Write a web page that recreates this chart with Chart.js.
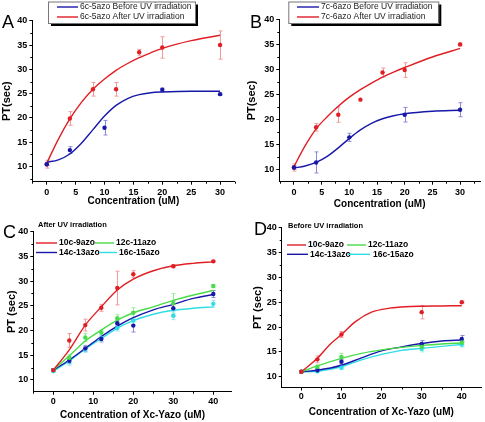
<!DOCTYPE html>
<html>
<head>
<meta charset="utf-8">
<title>PT vs concentration</title>
<script src="https://cdn.jsdelivr.net/npm/chart.js@4.4.1/dist/chart.umd.min.js"></script>
<style>
  body { margin: 0; background: #fff; }
  #wrap { position: relative; width: 485px; height: 422px; }
  canvas { position: absolute; }
</style>
</head>
<body>
<div id="wrap">
  <canvas id="chartA" width="242" height="211" style="left:0;top:0"></canvas>
  <canvas id="chartB" width="243" height="211" style="left:242px;top:0"></canvas>
  <canvas id="chartC" width="242" height="211" style="left:0;top:211px"></canvas>
  <canvas id="chartD" width="243" height="211" style="left:242px;top:211px"></canvas>
</div>
<script>
// ---- tick labels ----
const abXTicks = [0, 5, 10, 15, 20, 25, 30];
const cdXTicks = [0, 10, 20, 30, 40];
const yTicks = [10, 15, 20, 25, 30, 35, 40];

// ---- A : 6c-5azo ----
const aBeforeConc = [0, 4, 10, 20, 30];
const aBeforePT = [10.5, 13.4, 18, 25.8, 24.9];
const aBeforeErr = [0.3, 0.7, 1.5, 0.35, 0.2];
const aAfterConc = [0, 4, 8, 12, 16, 20, 30];
const aAfterPT = [10.5, 19.9, 25.9, 25.9, 33.5, 34.5, 35];
const aAfterErr = [0.8, 1.4, 1.4, 1.4, 0.6, 2.2, 2.9];
const aFitConc = [0, 2, 4, 6, 8, 10, 12, 14, 16, 18, 20, 25, 30];
const aBeforeFit = [10.9, 11.4, 12.6, 14.8, 17.6, 20.4, 22.6, 24.0, 24.8, 25.2, 25.35, 25.5, 25.5];
const aAfterFit = [10.7, 15.6, 19.8, 23.2, 25.9, 28.0, 29.8, 31.2, 32.4, 33.4, 34.3, 35.9, 37.0];

// ---- B : 7c-6azo ----
const bBeforeConc = [0, 4, 10, 20, 30];
const bBeforePT = [10.5, 11.5, 16.5, 21, 22];
const bBeforeErr = [0.3, 2.1, 0.8, 1.45, 1.4];
const bAfterConc = [0, 4, 8, 12, 16, 20, 30];
const bAfterPT = [10.5, 18.5, 21, 24, 29.4, 29.9, 35];
const bAfterErr = [0.7, 0.75, 1.5, 0, 0.9, 1.45, 0.3];
const bFitConc = [0, 2, 4, 6, 8, 10, 12, 14, 16, 18, 20, 25, 30];
const bBeforeFit = [10.4, 10.8, 11.5, 12.7, 14.4, 16.3, 18.0, 19.3, 20.2, 20.8, 21.2, 21.7, 21.9];
const bAfterFit = [10.7, 14.8, 18.2, 20.6, 22.7, 24.5, 26.0, 27.3, 28.5, 29.5, 30.4, 32.5, 34.2];

// ---- C : after UV irradiation ----
const cConc = [0, 4, 8, 12, 16, 20, 30, 40];
const c10PT = [12, 18, 21.1, 24.6, 28.6, 31.4, 33, 34];
const c10Err = [0.3, 1.4, 1.2, 0.7, 3.4, 0.7, 0.3, 0.2];
const c12PT = [12, 14.5, 18.6, 19.6, 22.5, 23.6, 25.5, 29];
const c12Err = [0.3, 0.6, 0.8, 0.5, 0.7, 1.0, 2.0, 0.3];
const c14PT = [12, 13.9, 16.4, 18.3, 21.5, 21.0, 24.5, 27.4];
const c14Err = [0.3, 0.6, 0.6, 0.6, 0.5, 1.3, 1.5, 0.7];
const c16PT = [11.8, 13.7, 16.2, 18.4, 20.5, 22.0, 23.0, 25.4];
const c16Err = [0.3, 0.7, 0.6, 0.6, 0.6, 0.7, 0.8, 0.7];
const cFitConc = [0, 4, 8, 12, 16, 20, 25, 30, 35, 40];
const c10Fit = [12, 16.1, 21.1, 24.8, 28.2, 30.4, 32.1, 33.1, 33.6, 33.9];
const c12Fit = [12, 14.9, 17.9, 20.1, 22.1, 23.6, 24.8, 26.1, 27.2, 28.1];
const c14Fit = [12, 14.05, 16.4, 18.8, 20.9, 22.6, 24.2, 25.3, 26.5, 27.3];
const c16Fit = [11.8, 13.85, 16.3, 18.4, 20.5, 22.0, 23.3, 24.1, 24.5, 24.8];

// ---- D : before UV irradiation ----
const dConc = [0, 4, 10, 30, 40];
const d10PT = [11, 13.5, 18.5, 23, 25];
const d10Err = [0.2, 0.7, 0.6, 1.35, 0.2];
const d12PT = [11, 12, 14, 16, 16.9];
const d12Err = [0.2, 0.3, 0.7, 0.4, 0.4];
const d14PT = [11, 11.3, 13, 16.6, 17.6];
const d14Err = [0.2, 0.3, 0.5, 0.7, 0.7];
const d16PT = [11, 11.1, 11.8, 15.6, 16.5];
const d16Err = [0.2, 0.3, 0.3, 0.6, 0.5];
const d10FitConc = [0, 4, 7, 10, 13.5, 17.5, 22, 26, 30, 35, 40];
const d10Fit = [11, 13.7, 16.4, 18.5, 21.1, 23.0, 23.8, 24.1, 24.2, 24.25, 24.3];
const dFitConc = [0, 4, 10, 15, 20, 25, 30, 35, 40];
const d12Fit = [11, 12.2, 13.7, 14.7, 15.4, 15.9, 16.3, 16.6, 16.8];
const d14Fit = [11, 11.3, 12.3, 13.8, 15.2, 16.0, 16.7, 17.2, 17.4];
const d16Fit = [11, 11.1, 12.0, 13.4, 14.5, 15.3, 15.7, 16.1, 16.5];

const RED = '#e01e24', BLUE = '#1818a8', GREEN = '#48dc48', CYAN = '#30dce6';
const RED_E = '#f29a9a', BLUE_E = '#8a8ad8', GREEN_E = '#9aee9a', CYAN_E = '#98eaf0';
const FONT = "'Liberation Sans', Arial, sans-serif";

function minorTicks(major, min, max) {
  const out = [];
  const step = major[1] - major[0];
  out.push(major[0] - step / 2);
  for (let i = 0; i < major.length - 1; i++) out.push((major[i] + major[i + 1]) / 2);
  out.push(major[major.length - 1] + step / 2);
  return out.filter(v => v >= min - 1e-6 && v <= max + 1e-6);
}

function makePanel(id, p) {
  const datasets = [];
  p.series.forEach(s => {
    datasets.push({
      type: 'line', label: s.label,
      data: s.fitConc.map((x, i) => ({ x: x, y: s.fit[i] })),
      borderColor: s.color, borderWidth: 1.4, pointRadius: 0,
      cubicInterpolationMode: 'monotone', fill: false, order: 2
    });
    datasets.push({
      type: 'scatter',
      data: s.conc.map((x, i) => ({ x: x, y: s.pt[i] })),
      errors: s.err, errColor: s.errColor,
      backgroundColor: s.color, borderColor: s.color,
      pointRadius: 2.2, borderWidth: 0, order: 1
    });
  });

  const deco = {
    id: 'deco',
    beforeDatasetsDraw(chart) {
      const ctx = chart.ctx, xs = chart.scales.x, ys = chart.scales.y;
      ctx.save();
      ctx.lineWidth = 1;
      chart.data.datasets.forEach(ds => {
        if (!ds.errors) return;
        ctx.strokeStyle = ds.errColor;
        ds.data.forEach((pt, i) => {
          const e = ds.errors[i];
          if (!e) return;
          const x = Math.round(xs.getPixelForValue(pt.x)) + 0.5;
          const y1 = ys.getPixelForValue(pt.y + e), y2 = ys.getPixelForValue(pt.y - e);
          ctx.beginPath();
          ctx.moveTo(x, y1); ctx.lineTo(x, y2);
          ctx.moveTo(x - 2, y1); ctx.lineTo(x + 2, y1);
          ctx.moveTo(x - 2, y2); ctx.lineTo(x + 2, y2);
          ctx.stroke();
        });
      });
      ctx.restore();
    },
    afterDraw(chart) {
      const ctx = chart.ctx, xs = chart.scales.x, ys = chart.scales.y;
      const area = chart.chartArea;
      ctx.save();
      // minor ticks
      ctx.strokeStyle = '#000';
      ctx.lineWidth = 1;
      ctx.beginPath();
      minorTicks(p.xTicks, p.xMin, p.xMax).forEach(v => {
        const x = Math.round(xs.getPixelForValue(v)) + 0.5;
        ctx.moveTo(x, area.bottom); ctx.lineTo(x, area.bottom + 2);
      });
      minorTicks(yTicks, p.yMin, 40).forEach(v => {
        const y = Math.round(ys.getPixelForValue(v)) + 0.5;
        ctx.moveTo(area.left, y); ctx.lineTo(area.left - 2, y);
      });
      ctx.stroke();

      // legend
      const labelled = chart.data.datasets.filter(d => d.label);
      const lg = p.legend;
      if (lg.box) {
        const b = lg.box;
        ctx.fillStyle = '#000';
        ctx.fillRect(b.x + 3, b.y + 3, b.w, b.h);
        ctx.fillStyle = '#fff';
        ctx.fillRect(b.x, b.y, b.w, b.h);
        ctx.strokeStyle = '#777';
        ctx.strokeRect(b.x + 0.5, b.y + 0.5, b.w, b.h);
      }
      ctx.font = lg.font;
      ctx.textBaseline = 'middle';
      ctx.textAlign = 'left';
      labelled.forEach((d, i) => {
        const it = lg.items[i];
        ctx.strokeStyle = d.borderColor;
        ctx.lineWidth = 1.4;
        ctx.beginPath();
        ctx.moveTo(it[0], it[3]); ctx.lineTo(it[1], it[3]);
        ctx.stroke();
        ctx.fillStyle = lg.color;
        ctx.fillText(d.label, it[2], it[3]);
      });

      // panel letter and note
      ctx.fillStyle = '#000';
      ctx.textBaseline = 'alphabetic';
      ctx.font = '18px ' + FONT;
      ctx.fillText(p.letter, p.letterPos[0], p.letterPos[1]);
      if (p.note) {
        ctx.font = 'bold 7.5px ' + FONT;
        ctx.textBaseline = 'middle';
        ctx.fillText(p.note, p.notePos[0], p.notePos[1]);
      }
      ctx.restore();
    }
  };

  const W = p.width, H = 211, a = p.area;
  const tickFont = { family: FONT, size: 9, weight: 'bold' };
  new Chart(document.getElementById(id), {
    type: 'scatter',
    data: { datasets: datasets },
    options: {
      responsive: false,
      animation: false,
      layout: { padding: { left: 0, top: a.t, right: W - a.r, bottom: 0 } },
      plugins: { legend: { display: false }, tooltip: { enabled: false } },
      scales: {
        x: {
          type: 'linear', min: p.xMin, max: p.xMax,
          afterBuildTicks: s => { s.ticks = p.xTicks.map(v => ({ value: v })); },
          afterFit: s => { s.height = H - a.b; },
          grid: { drawOnChartArea: false, drawTicks: true, tickLength: 3, color: '#000', lineWidth: 1 },
          border: { display: true, color: '#000', width: 1 },
          ticks: { color: '#000', font: tickFont, padding: p.xTickPad, maxRotation: 0, autoSkip: false },
          title: { display: true, text: p.xTitle, color: '#000',
                   font: { family: FONT, size: 10, weight: 'bold' }, padding: { top: 0, bottom: p.xTitlePad } }
        },
        y: {
          type: 'linear', min: p.yMin, max: 40,
          afterBuildTicks: s => { s.ticks = yTicks.map(v => ({ value: v })); },
          afterFit: s => { s.width = a.l; },
          grid: { drawOnChartArea: false, drawTicks: true, tickLength: 3, color: '#000', lineWidth: 1 },
          border: { display: true, color: '#000', width: 1 },
          ticks: { color: '#000', font: tickFont, padding: 2, autoSkip: false },
          title: { display: true, text: p.yTitle, color: '#000',
                   font: { family: FONT, size: 11, weight: 'bold' }, padding: { top: p.yTitlePad, bottom: 0 } }
        }
      }
    },
    plugins: [deco]
  });
}

const boxFont = '8.5px ' + FONT;
const gridFont = 'bold 8.5px ' + FONT;

makePanel('chartA', {
  width: 242, area: { l: 32.3, t: 20.7, r: 234.5, b: 181.7 },
  xMin: -2.5, xMax: 32.5, yMin: 6.9, xTicks: abXTicks,
  xTitle: 'Concentration (uM)', yTitle: 'PT(sec)',
  xTickPad: 2, xTitlePad: 3.7, yTitlePad: 0.6,
  letter: 'A', letterPos: [2, 28],
  legend: { box: { x: 48, y: 1.5, w: 147, h: 21.5 }, font: boxFont, color: '#222',
            items: [[57, 78, 80, 7], [57, 78, 80, 17]] },
  series: [
    { label: '6c-5azo Before UV irradiation', color: BLUE, errColor: BLUE_E,
      conc: aBeforeConc, pt: aBeforePT, err: aBeforeErr, fitConc: aFitConc, fit: aBeforeFit },
    { label: '6c-5azo After UV irradiation', color: RED, errColor: RED_E,
      conc: aAfterConc, pt: aAfterPT, err: aAfterErr, fitConc: aFitConc, fit: aAfterFit }
  ]
});

makePanel('chartB', {
  width: 243, area: { l: 37.3, t: 19.3, r: 238, b: 181.7 },
  xMin: -2.65, xMax: 33.6, yMin: 7.67, xTicks: abXTicks,
  xTitle: 'Concentration (uM)', yTitle: 'PT(sec)',
  xTickPad: 2, xTitlePad: 1, yTitlePad: 3.4,
  letter: 'B', letterPos: [8, 28],
  legend: { box: { x: 46.3, y: 1.5, w: 150, h: 21.5 }, font: boxFont, color: '#222',
            items: [[55, 77, 79, 7], [55, 77, 79, 17]] },
  series: [
    { label: '7c-6azo Before UV irradiation', color: BLUE, errColor: BLUE_E,
      conc: bBeforeConc, pt: bBeforePT, err: bBeforeErr, fitConc: bFitConc, fit: bBeforeFit },
    { label: '7c-6azo After UV irradiation', color: RED, errColor: RED_E,
      conc: bAfterConc, pt: bAfterPT, err: bAfterErr, fitConc: bFitConc, fit: bAfterFit }
  ]
});

makePanel('chartC', {
  width: 242, area: { l: 33.3, t: 20.7, r: 231.7, b: 180.7 },
  xMin: -5, xMax: 44.6, yMin: 7.63, xTicks: cdXTicks,
  xTitle: 'Concentration of Xc-Yazo (uM)', yTitle: 'PT (sec)',
  xTickPad: 1, xTitlePad: 0.3, yTitlePad: 5.4,
  letter: 'C', letterPos: [3, 26.7],
  note: 'After UV irradiation', notePos: [38, 14],
  legend: { font: gridFont, color: '#000',
            items: [[36, 57, 59, 32], [95, 114, 116, 32], [36, 57, 59, 41.5], [99, 117, 119, 41.5]] },
  series: [
    { label: '10c-9azo', color: RED, errColor: RED_E,
      conc: cConc, pt: c10PT, err: c10Err, fitConc: cFitConc, fit: c10Fit },
    { label: '12c-11azo', color: GREEN, errColor: GREEN_E,
      conc: cConc, pt: c12PT, err: c12Err, fitConc: cFitConc, fit: c12Fit },
    { label: '14c-13azo', color: BLUE, errColor: BLUE_E,
      conc: cConc, pt: c14PT, err: c14Err, fitConc: cFitConc, fit: c14Fit },
    { label: '16c-15azo', color: CYAN, errColor: CYAN_E,
      conc: cConc, pt: c16PT, err: c16Err, fitConc: cFitConc, fit: c16Fit }
  ]
});

makePanel('chartD', {
  width: 243, area: { l: 39.7, t: 16.7, r: 240.7, b: 176.5 },
  xMin: -4.9, xMax: 44.8, yMin: 7.83, xTicks: cdXTicks,
  xTitle: 'Concentration of Xc-Yazo (uM)', yTitle: 'PT (sec)',
  xTickPad: 1, xTitlePad: 4, yTitlePad: 9.4,
  letter: 'D', letterPos: [12, 24],
  note: 'Before UV irradiation', notePos: [46, 14.7],
  legend: { font: gridFont, color: '#000',
            items: [[45, 64, 66, 34], [105, 124, 126, 34], [45, 66, 68, 43.3], [106, 128, 131, 43.3]] },
  series: [
    { label: '10c-9azo', color: RED, errColor: RED_E,
      conc: dConc, pt: d10PT, err: d10Err, fitConc: d10FitConc, fit: d10Fit },
    { label: '12c-11azo', color: GREEN, errColor: GREEN_E,
      conc: dConc, pt: d12PT, err: d12Err, fitConc: dFitConc, fit: d12Fit },
    { label: '14c-13azo', color: BLUE, errColor: BLUE_E,
      conc: dConc, pt: d14PT, err: d14Err, fitConc: dFitConc, fit: d14Fit },
    { label: '16c-15azo', color: CYAN, errColor: CYAN_E,
      conc: dConc, pt: d16PT, err: d16Err, fitConc: dFitConc, fit: d16Fit }
  ]
});
</script>
</body>
</html>
